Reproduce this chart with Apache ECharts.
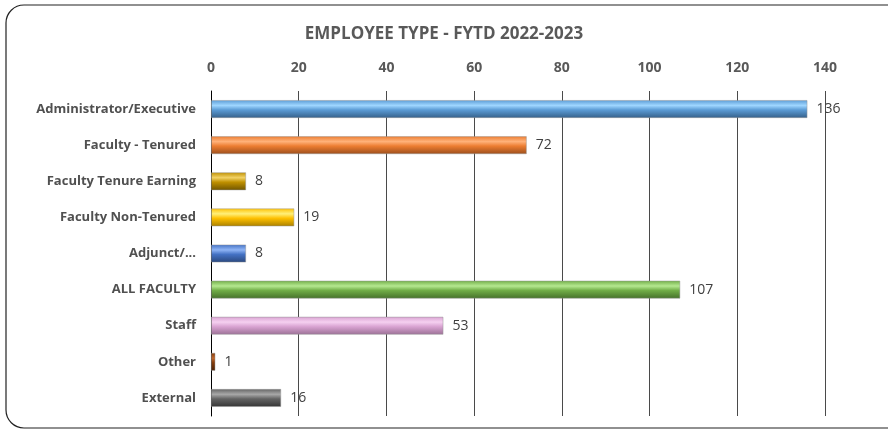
<!DOCTYPE html>
<html>
<head>
<meta charset="utf-8">
<script src="https://cdn.jsdelivr.net/npm/echarts@6/dist/echarts.min.js"></script>
<style>
 html, body { margin: 0; padding: 0; background: #fff; }
 #chart { width: 888px; height: 432px; }
</style>
</head>
<body>
<div id="chart"></div>
<script>
 var categories = ["Administrator/Executive", "Faculty - Tenured", "Faculty Tenure Earning",
  "Faculty Non-Tenured", "Adjunct/...", "ALL FACULTY", "Staff", "Other", "External"];
 var counts = [136, 72, 8, 19, 8, 107, 53, 1, 16];
 var xTicks = [0, 20, 40, 60, 80, 100, 120, 140];

 // light, base, dark for each bar
 var shades = [
  ["#9fd6ff", "#5b9bd5", "#355f88"],
  ["#ffb27a", "#ed7d31", "#9a4e1c"],
  ["#f2d266", "#bf9000", "#6f5400"],
  ["#fff07a", "#ffc000", "#a87f00"],
  ["#8fb4f5", "#4472c4", "#2a477c"],
  ["#b5e890", "#70ad47", "#44702a"],
  ["#f5d0f0", "#d9a3d2", "#9a7095"],
  ["#c0682e", "#843c0c", "#4a2005"],
  ["#a8a8a8", "#636363", "#353535"]
 ];

 function bevel(s) {
  return new echarts.graphic.LinearGradient(0, 0, 0, 1, [
   { offset: 0, color: s[1] },
   { offset: 0.3, color: s[0] },
   { offset: 0.55, color: s[1] },
   { offset: 1, color: s[2] }
  ]);
 }

 var d1 = [];
 for (var i = 0; i < counts.length; i++) {
  d1.push({ value: counts[i], itemStyle: { color: bevel(shades[i]) } });
 }

 var myChart = echarts.init(document.getElementById("chart"));
 var option = {
  animation: false,
  title: {
   text: "EMPLOYEE TYPE - FYTD 2022-2023",
   left: "center",
   top: 21,
   textStyle: { fontFamily: "Open Sans", fontSize: 17, fontWeight: "bold", color: "#595959" }
  },
  graphic: [{
   type: "rect",
   shape: { x: 6, y: 5, width: 900, height: 423, r: 18 },
   style: { fill: "none", stroke: "#222", lineWidth: 1.2 },
   silent: true
  }],
  grid: { left: 211, right: 63, top: 91, bottom: 16 },
  xAxis: {
   type: "value",
   position: "top",
   min: 0,
   max: 140,
   interval: 20,
   axisLine: { show: false },
   axisTick: { show: false },
   axisLabel: {
    margin: 16,
    fontFamily: "Open Sans",
    fontSize: 14,
    fontWeight: "bold",
    color: "#595959",
    formatter: function(v) { return xTicks.indexOf(v) >= 0 ? String(v) : ""; }
   },
   splitLine: { lineStyle: { color: "#4a4a4a", width: 1 } }
  },
  yAxis: {
   type: "category",
   inverse: true,
   data: categories,
   axisLine: { lineStyle: { color: "#000", width: 1 } },
   axisTick: { show: false },
   axisLabel: {
    margin: 15,
    fontFamily: "Open Sans",
    fontSize: 13,
    fontWeight: "bold",
    color: "#505050"
   }
  },
  series: [{
   type: "bar",
   data: d1,
   barWidth: 18,
   itemStyle: { borderColor: "rgba(150,150,150,0.6)", borderWidth: 0.8 },
   label: {
    show: true,
    position: "right",
    distance: 9,
    fontFamily: "Open Sans",
    fontSize: 14,
    color: "#404040"
   }
  }]
 };
 myChart.setOption(option, true);
</script>
</body>
</html>
